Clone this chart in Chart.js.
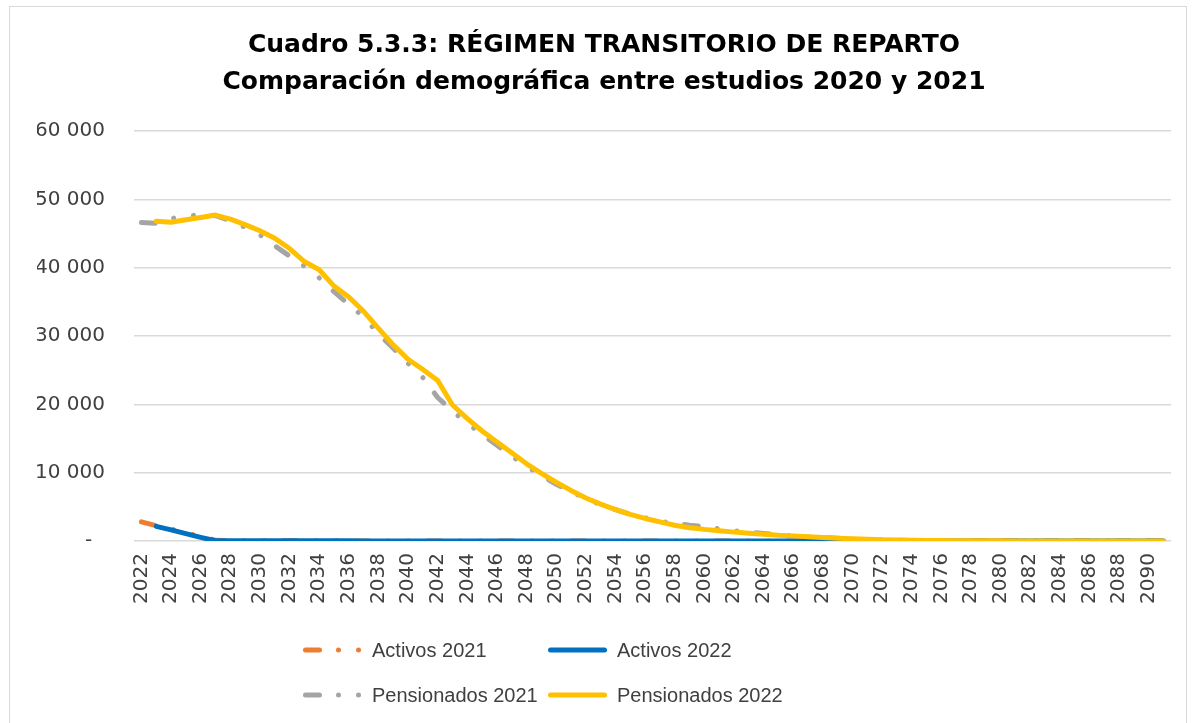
<!DOCTYPE html>
<html>
<head>
<meta charset="utf-8">
<script src="https://cdn.jsdelivr.net/npm/chart.js@4.4.1/dist/chart.umd.min.js"></script>
<style>
  html, body { margin: 0; padding: 0; background: #fff; }
  #wrap { position: relative; width: 1193px; height: 723px; overflow: hidden; }
  #frame { position: absolute; left: 9px; top: 6px; width: 1178px; height: 730px; border: 1.5px solid #d9d9d9; box-sizing: border-box; }
  canvas { position: absolute; left: 0; top: 0; }
</style>
</head>
<body>
<div id="wrap">
  <div id="frame"></div>
  <canvas id="chart" width="1193" height="723"></canvas>
</div>
<script>
// ── datos ─────────────────────────────────────────────
const years = [];
for (let y = 2022; y <= 2091; y++) years.push(String(y));

// Activos (2022 → 2091)
const activos2021 = [
  2800, 2250, 1750, 1200, 650, 100, 40, 35, 30, 30,
  25, 25, 20, 20, 20, 15, 15, 15, 10, 10,
  10, 10, 10, 5, 5, 5, 5, 5, 5, 5,
  5, 5, 5, 5, 5, 0, 0, 0, 0, 0,
  0, 0, 0, 0, 0, 0, 0, 0, 0, 0,
  0, 0, 0, 0, 0, 0, 0, 0, 0, 0,
  0, 0, 0, 0, 0, 0, 0, 0, 0, 0
];
const activos2022 = [
  null, 2150, 1620, 1080, 540, 30, 30, 30, 25, 25,
  25, 20, 20, 20, 20, 15, 15, 15, 15, 10,
  10, 10, 10, 10, 10, 5, 5, 5, 5, 5,
  5, 5, 5, 5, 5, 5, 5, 5, 5, 0,
  0, 0, 0, 0, 0, 0, 0, 0, 0, 0,
  0, 0, 0, 0, 0, 0, 0, 0, 0, 0,
  0, 0, 0, 0, 0, 0, 0, 0, 0, 0
];

// Pensionados (2022 → 2091)
const pensionados2021 = [
  46600, 46500, 47200, 47500, 47800, 47600, 46900, 45900, 44800, 43200,
  41700, 40200, 38500, 36500, 34600, 32800, 30300, 28200, 26000, 23900,
  21000, 19000, 17200, 15600, 14000, 12400, 10900, 9600, 8300, 7200,
  6200, 5300, 4600, 3900, 3400, 2900, 2600, 2300, 2100, 1800,
  1500, 1300, 1100, 900, 750, 600, 500, 400, 300, 230,
  170, 120, 90, 60, 40, 30, 20, 15, 10, 8,
  5, 4, 3, 2, 1, 1, 0, 0, 0, 0
];
const pensionados2022 = [
  null, 46800, 46650, 47000, 47350, 47700, 47100, 46300, 45400, 44300,
  42800, 40900, 39700, 37300, 35700, 33600, 31100, 28700, 26600, 25100,
  23500, 19900, 17900, 16100, 14500, 12900, 11300, 9900, 8600, 7400,
  6300, 5400, 4600, 3900, 3300, 2800, 2300, 1950, 1700, 1500,
  1300, 1150, 1000, 850, 750, 620, 500, 400, 320, 250,
  200, 150, 110, 80, 60, 45, 35, 25, 20, 15,
  10, 8, 5, 4, 3, 2, 1, 1, 0, 0
];

const yTicks = [0, 10000, 20000, 30000, 40000, 50000, 60000];

const titleLines = [
  'Cuadro 5.3.3: RÉGIMEN TRANSITORIO DE REPARTO',
  'Comparación demográfica entre estudios 2020 y 2021'
];

// ── estilos ───────────────────────────────────────────
const COL_ORANGE = '#ED7D31';
const COL_BLUE   = '#0070C0';
const COL_GRAY   = '#A5A5A5';
const COL_YELLOW = '#FFC000';
const DASH_DOT_DOT = [14, 19, 0.01, 20, 0.01, 19];
const TXT = '#404040';

function fmtMiles(v) {
  if (v === 0) return '-  ';
  return String(v).replace(/\B(?=(\d{3})+(?!\d))/g, ' ');
}

// leyenda a dos columnas, como en Excel
const legendItems = [
  { text: 'Activos 2021',     color: COL_ORANGE, dash: DASH_DOT_DOT, col: 0, row: 0 },
  { text: 'Activos 2022',     color: COL_BLUE,   dash: [],           col: 1, row: 0 },
  { text: 'Pensionados 2021', color: COL_GRAY,   dash: DASH_DOT_DOT, col: 0, row: 1 },
  { text: 'Pensionados 2022', color: COL_YELLOW, dash: [],           col: 1, row: 1 }
];

const legendPlugin = {
  id: 'legendaExcel',
  afterDraw(chart) {
    const ctx = chart.ctx;
    const colX = [305.5, 550.5];
    const rowY = [650, 695];
    ctx.save();
    legendItems.forEach(it => {
      const x = colX[it.col], y = rowY[it.row];
      ctx.beginPath();
      ctx.setLineDash(it.dash);
      ctx.lineCap = 'round';
      ctx.lineWidth = 5;
      ctx.strokeStyle = it.color;
      ctx.moveTo(x, y);
      ctx.lineTo(x + 54, y);
      ctx.stroke();
      ctx.setLineDash([]);
      ctx.fillStyle = TXT;
      ctx.font = '20px "Liberation Sans", Arial, sans-serif';
      ctx.textBaseline = 'middle';
      ctx.textAlign = 'left';
      ctx.fillText(it.text, x + 66.5, y + 1);
    });
    ctx.restore();
  }
};

const lineDs = (label, data, color, dash) => ({
  label,
  data,
  borderColor: color,
  backgroundColor: color,
  borderWidth: 5,
  borderDash: dash,
  borderCapStyle: 'round',
  borderJoinStyle: 'round',
  pointRadius: 0,
  pointHoverRadius: 0,
  tension: 0,
  fill: false,
  spanGaps: false
});

new Chart(document.getElementById('chart'), {
  type: 'line',
  data: {
    labels: years,
    datasets: [
      lineDs('Pensionados 2022', pensionados2022, COL_YELLOW, []),
      lineDs('Activos 2022',     activos2022,     COL_BLUE,   []),
      lineDs('Pensionados 2021', pensionados2021, COL_GRAY,   DASH_DOT_DOT),
      lineDs('Activos 2021',     activos2021,     COL_ORANGE, DASH_DOT_DOT)
    ]
  },
  options: {
    responsive: false,
    animation: false,
    layout: { padding: { left: 37, right: 22, top: 0, bottom: 102 } },
    plugins: {
      legend: { display: false },
      tooltip: { enabled: false },
      title: {
        display: true,
        text: titleLines,
        color: '#000',
        font: { family: '"DejaVu Sans", sans-serif', size: 25, weight: 'bold', lineHeight: 1.48 },
        padding: { top: 26.5, bottom: 30.5 }
      }
    },
    scales: {
      x: {
        offset: true,
        grid: { display: false, drawTicks: false },
        border: { display: false },
        ticks: {
          autoSkip: false,
          maxRotation: 90,
          minRotation: 90,
          padding: 12,
          color: TXT,
          font: { family: '"DejaVu Sans", sans-serif', size: 20 },
          callback: (v, i) => (i % 2 === 0 ? years[i] : '')
        },
        afterFit: s => { s.height = 80; s.paddingLeft = 0; s.paddingRight = 0; }
      },
      y: {
        min: 0,
        max: 60000,
        afterBuildTicks: s => { s.ticks = yTicks.map(v => ({ value: v })); },
        grid: { color: '#d9d9d9', lineWidth: 1.5, drawTicks: false },
        border: { display: false },
        ticks: {
          padding: 29,
          color: TXT,
          font: { family: '"DejaVu Sans", sans-serif', size: 20 },
          callback: v => fmtMiles(v)
        },
        afterFit: s => { s.width = 97; s.paddingTop = 0; s.paddingBottom = 0; }
      }
    }
  },
  plugins: [legendPlugin]
});
</script>
</body>
</html>
